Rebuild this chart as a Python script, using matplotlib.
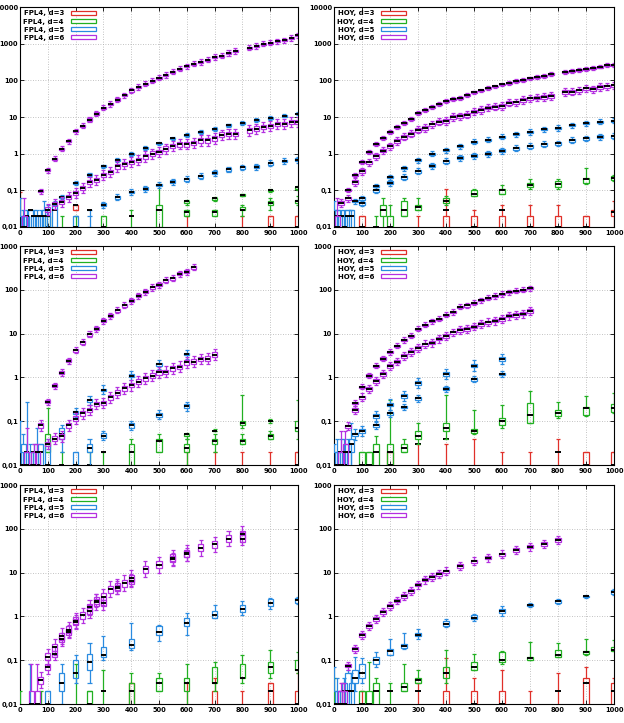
import numpy as np
import matplotlib
matplotlib.use('Agg')
import matplotlib.pyplot as plt
from matplotlib.patches import Patch, Rectangle
from matplotlib.collections import LineCollection

RED = '#e0302a'
GREEN = '#22b022'
BLUE = '#2a8be0'
PURPLE = '#b430e0'
COLORS = [RED, GREEN, BLUE, PURPLE]
DEGREES = [3, 4, 5, 6]

ZERO = 1e-3   # stands for 0 on the log axis (drawn below the frame)
BOXW = 18
FONT = ['Liberation Sans Narrow', 'DejaVu Sans']

# ---------------------------------------------------------------- top left, FPL4
tl_p6a_x = [75, 100, 125, 150, 175, 200, 225, 250, 275, 300, 325, 350, 375, 400, 425, 450, 475, 500,
            525, 550, 575, 600, 625, 650, 675, 700, 725, 750, 775, 825, 850, 875, 900, 925, 950, 975, 1000]
tl_p6a = [0.095, 0.35, 0.73, 1.37, 2.2, 4.1, 5.8, 8.5, 12.4, 18, 22.6, 30, 39, 53, 66, 81, 98, 118,
          140, 172, 208, 240, 285, 316, 366, 433, 470, 556, 630, 777, 863, 1000, 1050, 1170, 1250, 1430, 1690]
tl_p6b_x = [100, 125, 150, 175, 200, 225, 250, 275, 300, 325, 350, 375, 400, 425, 450, 475, 500,
            525, 550, 575, 600, 625, 650, 675, 700, 725, 750, 775, 825, 850, 875, 900, 925, 950, 975, 1000]
tl_p6b = [0.03, 0.043, 0.048, 0.066, 0.085, 0.116, 0.17, 0.19, 0.26, 0.32, 0.45, 0.53, 0.59, 0.66, 0.84,
          1.0, 1.1, 1.37, 1.6, 1.8, 1.8, 1.95, 2.3, 2.3, 2.6, 3.3, 3.5, 3.4, 4.3, 4.8, 5.3, 5.6, 6.5, 6.5, 7.2, 7.3]
tl_b5a_x = [150, 200, 250, 300, 350, 400, 450, 500, 550, 600, 650, 700, 750, 800, 850, 900, 950, 1000]
tl_b5a = [0.065, 0.16, 0.27, 0.45, 0.68, 0.96, 1.4, 1.9, 2.6, 3.2, 3.9, 4.8, 5.9, 7.0, 8.2, 9.3, 10.9, 12.4]
tl_b5b_x = [300, 350, 400, 450, 500, 550, 600, 650, 700, 750, 800, 850, 900, 950, 1000]
tl_b5b = [0.04, 0.065, 0.09, 0.11, 0.14, 0.17, 0.2, 0.24, 0.3, 0.37, 0.42, 0.44, 0.55, 0.63, 0.68]
# rows: x, whisker low, q1, median, q3, whisker high
tl_red = [(0, 0, 0, 0, 0.005, 0.09), (200, 0.03, 0.03, 0.04, 0.04, 0.04), (600, 0, 0, 0, 0.005, 0.02),
          (800, 0, 0, 0, 0.005, 0.02), (900, 0, 0, 0.01, 0.02, 0.02), (1000, 0, 0, 0.01, 0.02, 0.02)]
tl_green = [(100, 0, 0, 0.01, 0.02, 0.02), (150, 0, 0, 0, 0.005, 0.02), (200, 0, 0, 0.01, 0.005, 0.02),
            (300, 0, 0, 0.01, 0.02, 0.02), (400, 0, 0, 0.02, 0.005, 0.03), (500, 0, 0.01, 0.03, 0.04, 0.15),
            (600, 0.02, 0.02, 0.025, 0.03, 0.03), (700, 0.02, 0.02, 0.025, 0.03, 0.03),
            (800, 0.02, 0.03, 0.03, 0.035, 0.04), (900, 0.03, 0.04, 0.045, 0.05, 0.06),
            (1000, 0.04, 0.045, 0.05, 0.055, 0.07)]
tl_green2 = [(600, 0.04, 0.045, 0.05, 0.05, 0.055), (700, 0.05, 0.055, 0.06, 0.06, 0.065),
             (800, 0.07, 0.072, 0.075, 0.078, 0.08), (900, 0.09, 0.095, 0.1, 0.1, 0.11),
             (1000, 0.1, 0.11, 0.12, 0.12, 0.13)]
tl_blue = [(0, 0, 0, 0.01, 0.02, 0.06), (12, 0, 0, 0.01, 0.02, 0.03), (25, 0, 0, 0.02, 0.02, 0.03),
           (37, 0, 0, 0.03, 0.03, 0.03), (50, 0, 0, 0.02, 0.02, 0.03), (62, 0, 0, 0.02, 0.02, 0.03),
           (75, 0, 0, 0.02, 0.02, 0.03), (87, 0, 0.01, 0.02, 0.03, 0.05), (100, 0, 0.01, 0.02, 0.03, 0.04),
           (125, 0, 0.01, 0.03, 0.04, 0.05), (200, 0, 0, 0.01, 0.02, 0.02), (250, 0.01, 0.02, 0.03, 0.02, 0.03)]
tl_purple = [(15, 0, 0, 0.01, 0.02, 0.06)]

# ---------------------------------------------------------------- top right, HOY
tr_p6a_x = [50, 75, 100, 125, 150, 175, 200, 225, 250, 275, 300, 325, 350, 375, 400, 425, 450, 475, 500,
            525, 550, 575, 600, 625, 650, 675, 700, 725, 750, 775, 825, 850, 875, 900, 925, 950, 975, 1000]
tr_p6a = [0.1, 0.26, 0.6, 1.1, 1.8, 2.7, 3.9, 5.3, 6.9, 8.9, 12.6, 15.4, 19, 22.5, 27.6, 31, 33, 39, 47,
          53, 61, 68, 77, 85, 94, 104, 113, 124, 132, 150, 167, 177, 193, 205, 219, 236, 261, 265]
tr_p6b_x = [25, 50, 75, 100, 125, 150, 175, 200, 225, 250, 275, 300, 325, 350, 375, 400, 425, 450, 475, 500,
            525, 550, 575, 600, 625, 650, 675, 700, 725, 750, 775, 825, 850, 875, 900, 925, 950, 975, 1000]
tr_p6b = [0.045, 0.06, 0.17, 0.33, 0.58, 0.85, 1.22, 1.6, 2.2, 2.9, 3.5, 4.5, 5, 6.3, 7.4, 7.8, 10, 10.5, 11.5, 14,
          15.5, 18, 19, 20, 24.5, 25, 29, 32, 34, 35, 37, 48, 49, 53, 60, 57, 66, 68, 73]
tr_b5a_x = [75, 100, 150, 200, 250, 300, 350, 400, 450, 500, 550, 600, 650, 700, 750, 800, 850, 900, 950, 1000]
tr_b5a = [0.05, 0.06, 0.13, 0.23, 0.4, 0.66, 1.0, 1.25, 1.6, 2.1, 2.4, 2.9, 3.4, 3.9, 4.6, 5.0, 6.0, 6.8, 7.4, 7.9]
tr_b5b_x = [100, 150, 200, 250, 300, 350, 400, 450, 500, 550, 600, 650, 700, 750, 800, 850, 900, 950, 1000]
tr_b5b = [0.045, 0.1, 0.16, 0.23, 0.33, 0.47, 0.62, 0.77, 0.88, 1.0, 1.2, 1.4, 1.6, 1.8, 1.9, 2.3, 2.6, 2.9, 3.0]
tr_red = [(100, 0, 0, 0.01, 0.02, 0.02), (300, 0, 0, 0, 0.005, 0.02), (400, 0, 0, 0.03, 0.02, 0.11),
          (500, 0, 0, 0.01, 0.02, 0.03), (600, 0, 0, 0.03, 0.02, 0.04), (700, 0, 0, 0.01, 0.02, 0.04),
          (800, 0, 0, 0.01, 0.02, 0.04), (900, 0, 0, 0.01, 0.02, 0.02), (1000, 0, 0.02, 0.025, 0.03, 0.05)]
tr_green = [(150, 0, 0, 0.01, 0.005, 0.02), (175, 0, 0.02, 0.03, 0.04, 0.06), (200, 0, 0, 0.01, 0.02, 0.04),
            (250, 0.02, 0.02, 0.03, 0.05, 0.06), (300, 0.03, 0.03, 0.035, 0.04, 0.06),
            (400, 0.04, 0.045, 0.05, 0.06, 0.07), (500, 0.07, 0.07, 0.08, 0.1, 0.11),
            (600, 0.08, 0.08, 0.1, 0.11, 0.14), (700, 0.11, 0.12, 0.14, 0.16, 0.2),
            (800, 0.11, 0.12, 0.15, 0.18, 0.2), (900, 0.15, 0.16, 0.2, 0.22, 0.4),
            (1000, 0.18, 0.19, 0.22, 0.25, 0.26)]
tr_blue = [(0, 0, 0, 0.01, 0.03, 0.05), (12, 0, 0, 0.02, 0.03, 0.03), (25, 0, 0, 0.02, 0.02, 0.03),
           (37, 0, 0, 0.01, 0.02, 0.03), (50, 0, 0, 0.02, 0.03, 0.03), (62, 0, 0, 0.02, 0.03, 0.03)]
tr_purple = [(12, 0, 0, 0.01, 0.02, 0.06)]

# ---------------------------------------------------------------- middle left, FPL4
ml_p6a_x = [100, 125, 150, 175, 200, 225, 250, 275, 300, 325, 350, 375, 400, 425, 450, 475, 500,
            525, 550, 575, 600, 625]
ml_p6a = [0.28, 0.64, 1.29, 2.4, 4.2, 6.3, 9.7, 13, 19.6, 25.5, 34, 44, 56, 73, 90, 113, 130,
          165, 185, 230, 260, 330]
ml_p6b_x = [75, 100, 125, 150, 175, 200, 225, 250, 275, 300, 325, 350, 375, 400, 425, 450, 475, 500,
            525, 550, 575, 600, 625, 650, 675, 700]
ml_p6b = [0.08, 0.03, 0.04, 0.045, 0.08, 0.115, 0.15, 0.18, 0.25, 0.26, 0.35, 0.45, 0.56, 0.66, 0.8, 0.95,
          1.1, 1.3, 1.35, 1.6, 1.75, 2.2, 2.3, 2.6, 2.7, 3.3]
ml_b5a_x = [200, 250, 300, 400, 500, 600]
ml_b5a = [0.16, 0.3, 0.52, 1.1, 2.0, 3.4]
ml_b5b_x = [300, 400, 500, 600]
ml_b5b = [0.047, 0.08, 0.14, 0.22]
ml_red = [(600, 0, 0, 0, 0.005, 0.02), (700, 0, 0, 0, 0.005, 0.02), (800, 0, 0, 0, 0.005, 0.02),
          (900, 0, 0, 0, 0.005, 0.02), (1000, 0, 0, 0.01, 0.02, 0.02)]
ml_green = [(100, 0.02, 0.02, 0.03, 0.05, 0.2), (150, 0, 0, 0.01, 0.005, 0.02), (250, 0, 0, 0.01, 0.005, 0.02),
            (300, 0, 0, 0.02, 0.005, 0.02), (400, 0, 0.01, 0.02, 0.03, 0.04), (500, 0.02, 0.02, 0.035, 0.04, 0.05),
            (600, 0.01, 0.02, 0.025, 0.03, 0.04), (700, 0.02, 0.03, 0.035, 0.04, 0.05),
            (800, 0.03, 0.03, 0.035, 0.04, 0.05), (900, 0.04, 0.04, 0.045, 0.05, 0.06),
            (1000, 0.04, 0.06, 0.07, 0.1, 0.3)]
ml_green2 = [(600, 0.04, 0.045, 0.05, 0.05, 0.055), (700, 0.06, 0.06, 0.06, 0.06, 0.065),
             (800, 0.07, 0.08, 0.09, 0.1, 0.4), (900, 0.09, 0.1, 0.1, 0.1, 0.11)]
ml_blue = [(0, 0, 0, 0.01, 0.02, 0.1), (12, 0, 0, 0.01, 0.03, 0.05), (25, 0, 0, 0.02, 0.02, 0.28),
           (37, 0, 0, 0.01, 0.02, 0.03), (50, 0, 0, 0.02, 0.02, 0.03), (62, 0, 0, 0.01, 0.02, 0.07),
           (75, 0, 0, 0.02, 0.03, 0.03), (100, 0, 0, 0.01, 0.03, 0.04), (150, 0.02, 0.04, 0.05, 0.07, 0.08),
           (200, 0, 0, 0.01, 0.02, 0.02), (250, 0.01, 0.02, 0.025, 0.03, 0.04)]
ml_purple = [(25, 0, 0, 0.01, 0.02, 0.07), (50, 0, 0, 0.01, 0.02, 0.03), (62, 0, 0, 0.02, 0.02, 0.03)]

# ---------------------------------------------------------------- middle right, HOY
mr_p6a_x = [75, 100, 125, 150, 175, 200, 225, 250, 275, 300, 325, 350, 375, 400, 425, 450, 475, 500,
            525, 550, 575, 600, 625, 650, 675, 700]
mr_p6a = [0.26, 0.61, 1.1, 1.85, 2.7, 3.8, 5.3, 7.1, 8.9, 13, 16, 19, 22, 27, 31, 41, 44, 51,
          58, 66, 72, 80, 88, 95, 100, 108]
mr_p6b_x = [50, 75, 100, 125, 150, 175, 200, 225, 250, 275, 300, 325, 350, 375, 400, 425, 450, 475, 500,
            525, 550, 575, 600, 625, 650, 675, 700]
mr_p6b = [0.076, 0.18, 0.35, 0.54, 0.83, 1.2, 1.8, 2.3, 3.1, 3.8, 4.7, 5.7, 6.2, 7.7, 8.9, 10.6, 12.2, 12.7,
          14.5, 16.5, 18, 19.7, 21.5, 25.6, 26.6, 28.6, 33]
mr_b5a_x = [75, 100, 150, 200, 250, 300, 400, 500, 600]
mr_b5a = [0.05, 0.06, 0.13, 0.24, 0.38, 0.75, 1.2, 1.85, 2.6]
mr_b5b_x = [150, 200, 250, 300, 400, 500, 600]
mr_b5b = [0.08, 0.15, 0.21, 0.33, 0.55, 0.9, 1.2]
mr_red = [(200, 0, 0, 0.01, 0.02, 0.02), (300, 0, 0, 0.03, 0.005, 0.03), (400, 0, 0, 0.04, 0.005, 0.03),
          (500, 0, 0, 0, 0.005, 0.04), (600, 0, 0, 0, 0.005, 0.02), (700, 0, 0, 0, 0.005, 0.02),
          (800, 0, 0, 0.02, 0.005, 0.04), (900, 0, 0, 0.01, 0.02, 0.02), (1000, 0, 0, 0.01, 0.02, 0.02)]
mr_green = [(100, 0, 0, 0.01, 0.02, 0.02), (125, 0, 0, 0.01, 0.02, 0.02), (150, 0, 0, 0.02, 0.03, 0.045),
            (200, 0, 0, 0.02, 0.03, 0.3), (250, 0.02, 0.02, 0.025, 0.03, 0.04), (300, 0.03, 0.04, 0.045, 0.06, 0.09),
            (400, 0.04, 0.06, 0.07, 0.09, 0.4), (500, 0.05, 0.055, 0.06, 0.065, 0.18),
            (600, 0.07, 0.08, 0.1, 0.12, 0.23), (700, 0.09, 0.09, 0.14, 0.26, 0.5),
            (800, 0.12, 0.13, 0.15, 0.18, 0.27), (900, 0.13, 0.14, 0.2, 0.21, 0.38),
            (1000, 0.15, 0.16, 0.2, 0.25, 0.45)]
mr_blue = [(0, 0, 0, 0.01, 0.02, 0.03), (12, 0, 0, 0.01, 0.02, 0.04), (25, 0, 0, 0.02, 0.02, 0.04),
           (37, 0, 0, 0.01, 0.02, 0.04), (50, 0, 0, 0.02, 0.03, 0.04), (62, 0, 0.02, 0.03, 0.04, 0.09)]
mr_purple = [(25, 0, 0, 0.01, 0.02, 0.06), (40, 0, 0, 0.02, 0.03, 0.06)]

# ---------------------------------------------------------------- bottom left, FPL4
bl_p6a_x = [75, 100, 125, 150, 175, 200, 225, 250, 275, 300, 325, 350, 375, 400,
            450, 500, 550, 600, 650, 700, 750, 800]
bl_p6a = [0.035, 0.12, 0.2, 0.35, 0.5, 0.8, 1.05, 1.6, 2.1, 2.8, 4.2, 4.8, 5.7, 7.5,
          12, 15, 22, 28, 37, 44, 60, 75]
bl_p6b_x = [100, 125, 150, 175, 200, 250, 275, 300, 350, 400, 550, 600, 800]
bl_p6b = [0.07, 0.14, 0.3, 0.45, 0.75, 1.3, 2.3, 2.0, 4.5, 6.5, 20, 26, 60]
bl_red = [(400, 0, 0, 0.02, 0.03, 0.03), (500, 0, 0, 0, 0.005, 0.01), (600, 0, 0, 0, 0.005, 0.03),
          (700, 0, 0, 0.03, 0.02, 0.04), (800, 0, 0, 0, 0.005, 0.02), (900, 0, 0, 0.02, 0.03, 0.03),
          (1000, 0, 0, 0.01, 0.02, 0.05)]
bl_green = [(0, 0, 0, 0, 0.005, 0.02), (75, 0, 0, 0, 0.005, 0.02), (200, 0, 0, 0, 0.005, 0.08),
            (250, 0, 0, 0.01, 0.02, 0.02), (300, 0, 0, 0.02, 0.005, 0.06), (400, 0, 0, 0.02, 0.03, 0.05),
            (500, 0.02, 0.02, 0.03, 0.04, 0.05), (600, 0, 0.02, 0.03, 0.04, 0.08),
            (700, 0.02, 0.03, 0.03, 0.07, 0.09), (800, 0.03, 0.04, 0.04, 0.08, 0.13),
            (900, 0.04, 0.05, 0.07, 0.09, 0.17), (1000, 0.05, 0.06, 0.06, 0.1, 0.15)]
bl_blue = [(37, 0, 0, 0, 0.005, 0.08), (100, 0, 0, 0.01, 0.02, 0.02), (150, 0.01, 0.02, 0.03, 0.05, 0.08),
           (200, 0.03, 0.04, 0.05, 0.1, 0.13), (250, 0.03, 0.06, 0.09, 0.14, 0.25),
           (300, 0.1, 0.12, 0.13, 0.2, 0.35), (400, 0.17, 0.19, 0.22, 0.3, 0.7),
           (500, 0.27, 0.38, 0.43, 0.6, 0.65), (600, 0.37, 0.6, 0.7, 0.9, 1.2),
           (700, 0.9, 0.92, 1.1, 1.3, 1.8), (800, 1.1, 1.25, 1.45, 1.8, 2.2),
           (900, 1.5, 1.7, 2.0, 2.5, 2.6), (1000, 1.9, 2.0, 2.4, 2.7, 2.8)]
bl_purple = [(40, 0, 0, 0.01, 0.02, 0.08), (62, 0, 0, 0.01, 0.02, 0.08)]

# ---------------------------------------------------------------- bottom right, HOY
br_p6_x = [50, 75, 100, 125, 150, 175, 200, 225, 250, 275, 300, 325, 350, 375, 400,
           450, 500, 550, 600, 650, 700, 750, 800]
br_p6 = [0.075, 0.18, 0.38, 0.6, 0.88, 1.25, 1.75, 2.3, 2.9, 3.8, 5.3, 6.9, 8.0, 9.3, 10.7,
         14, 18, 22, 26, 33, 39, 45, 55]
br_red = [(30, 0, 0, 0, 0.005, 0.03), (100, 0, 0, 0, 0.005, 0.02), (300, 0, 0, 0.02, 0.005, 0.03),
          (400, 0, 0, 0.05, 0.02, 0.11), (500, 0, 0, 0.01, 0.02, 0.04), (600, 0, 0, 0.01, 0.02, 0.06),
          (700, 0, 0, 0, 0.005, 0.02), (800, 0, 0, 0.02, 0.005, 0.05), (900, 0, 0, 0.03, 0.04, 0.07),
          (1000, 0, 0, 0.02, 0.03, 0.04)]
br_green = [(0, 0, 0, 0, 0.005, 0.04), (100, 0, 0, 0.01, 0.02, 0.02), (125, 0, 0, 0.01, 0.02, 0.09),
            (150, 0, 0, 0.02, 0.03, 0.04), (200, 0, 0, 0.02, 0.005, 0.03), (250, 0.02, 0.02, 0.025, 0.03, 0.08),
            (300, 0.03, 0.03, 0.035, 0.04, 0.06), (400, 0.03, 0.04, 0.05, 0.07, 0.17),
            (500, 0.06, 0.06, 0.07, 0.09, 0.14), (600, 0.08, 0.09, 0.1, 0.15, 0.16),
            (700, 0.1, 0.1, 0.11, 0.12, 0.26), (800, 0.12, 0.12, 0.13, 0.17, 0.25),
            (900, 0.13, 0.14, 0.15, 0.16, 0.3), (1000, 0.16, 0.16, 0.17, 0.2, 0.29)]
br_blue = [(0, 0, 0, 0.01, 0.02, 0.07), (12, 0, 0, 0.01, 0.02, 0.04), (25, 0, 0, 0.01, 0.02, 0.02),
           (37, 0, 0, 0.02, 0.03, 0.04), (50, 0, 0, 0.02, 0.05, 0.06), (62, 0, 0, 0.02, 0.03, 0.05),
           (75, 0.02, 0.03, 0.04, 0.06, 0.12), (100, 0.03, 0.04, 0.05, 0.08, 0.11),
           (150, 0.07, 0.08, 0.1, 0.12, 0.15), (200, 0.13, 0.13, 0.16, 0.18, 0.3),
           (250, 0.18, 0.19, 0.21, 0.23, 0.42), (300, 0.3, 0.35, 0.38, 0.42, 0.52),
           (400, 0.58, 0.6, 0.68, 0.78, 0.85), (500, 0.8, 0.85, 0.93, 1.05, 1.15),
           (600, 1.0, 1.2, 1.3, 1.5, 1.7), (700, 1.6, 1.7, 1.8, 1.95, 2.0),
           (800, 1.9, 2.05, 2.2, 2.4, 2.5), (900, 2.7, 2.8, 2.9, 3.0, 3.1),
           (1000, 3.1, 3.3, 3.6, 4.0, 4.2)]
br_purple = [(25, 0, 0, 0.01, 0.02, 0.03), (37, 0, 0, 0.01, 0.02, 0.03)]


def z(v):
    return v if v > 0 else ZERO


def candles(ax, rows, color, zo):
    w = BOXW
    segs, meds = [], []
    for x, lo, q1, med, q3, hi in rows:
        lo, q1, med, q3, hi = z(lo), z(q1), z(med), z(q3), z(hi)
        ax.add_patch(Rectangle((x - w / 2, q1), w, q3 - q1, fill=False, ec=color, lw=0.9, zorder=zo))
        segs += [[(x, lo), (x, q1)], [(x, q3), (x, hi)],
                 [(x - 0.4 * w, lo), (x + 0.4 * w, lo)], [(x - 0.4 * w, hi), (x + 0.4 * w, hi)]]
        meds.append([(x - w / 2, med), (x + w / 2, med)])
    ax.add_collection(LineCollection(segs, colors=color, lw=0.9, zorder=zo))
    ax.add_collection(LineCollection(meds, colors='black', lw=1.4, zorder=zo + 0.5))


def curve(ax, xs, med, box, wk, color, zo):
    # box / wk: half height of box and whisker reach, in decades
    rows = []
    for x, m in zip(xs, med):
        rows.append((x, m / 10 ** wk, m / 10 ** box, m, m * 10 ** box, m * 10 ** wk))
    candles(ax, rows, color, zo)


def setup(ax, top, name):
    ax.set_yscale('log')
    ax.set_xlim(0, 1000)
    ax.set_ylim(0.01, top)
    ax.set_xticks(range(0, 1001, 100))
    ax.set_xticklabels([str(v) for v in range(0, 1001, 100)])
    decs = [0.01, 0.1, 1, 10, 100, 1000, 10000]
    labs = ['0,01', '0,1', '1', '10', '100', '1000', '10000']
    n = decs.index(top) + 1
    ax.set_yticks(decs[:n])
    ax.set_yticklabels(labs[:n])
    ax.yaxis.set_minor_locator(matplotlib.ticker.NullLocator())
    ax.tick_params(direction='in', length=3, width=0.6, top=True, right=True, pad=2.5)
    ax.tick_params(axis='y', pad=1.5)
    for lab in ax.get_xticklabels() + ax.get_yticklabels():
        lab.set_family(FONT)
        lab.set_fontsize(4.8)
        lab.set_fontweight('bold')
    ax.grid(True, which='major', color='#b0b0b0', ls=(0, (1, 2)), lw=0.6)
    ax.set_axisbelow(True)
    for s in ax.spines.values():
        s.set_linewidth(0.8)
    handles = [Patch(facecolor='white', edgecolor=c, lw=0.9) for c in COLORS]
    labels = ['%s, d=%d' % (name, d) for d in DEGREES]
    leg = ax.legend(handles, labels, loc='upper left', frameon=False, markerfirst=False,
                    prop={'family': FONT, 'size': 5, 'weight': 'bold'}, handlelength=3.6, handleheight=0.6,
                    labelspacing=0.3, handletextpad=1.0, borderaxespad=0.3, borderpad=0.2)
    leg.set_zorder(20)


fig = plt.figure(figsize=(6.24, 7.23), dpi=100)
W_L, W_R = 278 / 624, 280 / 624
X_L, X_R = 20 / 624, 334 / 624
rows_pos = [(1 - 227 / 723, 220 / 723), (1 - 465 / 723, 219 / 723), (1 - 704 / 723, 219 / 723)]

ax_tl = fig.add_axes([X_L, rows_pos[0][0], W_L, rows_pos[0][1]])
ax_tr = fig.add_axes([X_R, rows_pos[0][0], W_R, rows_pos[0][1]])
ax_ml = fig.add_axes([X_L, rows_pos[1][0], W_L, rows_pos[1][1]])
ax_mr = fig.add_axes([X_R, rows_pos[1][0], W_R, rows_pos[1][1]])
ax_bl = fig.add_axes([X_L, rows_pos[2][0], W_L, rows_pos[2][1]])
ax_br = fig.add_axes([X_R, rows_pos[2][0], W_R, rows_pos[2][1]])

# top left
setup(ax_tl, 10000, 'FPL4')
candles(ax_tl, tl_red, RED, 2)
candles(ax_tl, tl_green, GREEN, 3)
candles(ax_tl, tl_green2, GREEN, 3)
candles(ax_tl, tl_blue, BLUE, 4)
curve(ax_tl, tl_b5a_x, tl_b5a, 0.025, 0.05, BLUE, 4)
curve(ax_tl, tl_b5b_x, tl_b5b, 0.04, 0.08, BLUE, 4)
candles(ax_tl, tl_purple, PURPLE, 5)
curve(ax_tl, tl_p6a_x, tl_p6a, 0.03, 0.07, PURPLE, 5)
curve(ax_tl, tl_p6b_x, tl_p6b, 0.06, 0.14, PURPLE, 5)

# top right
setup(ax_tr, 10000, 'HOY')
candles(ax_tr, tr_red, RED, 2)
candles(ax_tr, tr_green, GREEN, 3)
candles(ax_tr, tr_blue, BLUE, 4)
curve(ax_tr, tr_b5a_x, tr_b5a, 0.03, 0.07, BLUE, 4)
curve(ax_tr, tr_b5b_x, tr_b5b, 0.04, 0.08, BLUE, 4)
candles(ax_tr, tr_purple, PURPLE, 5)
curve(ax_tr, tr_p6a_x, tr_p6a, 0.025, 0.05, PURPLE, 5)
curve(ax_tr, tr_p6b_x, tr_p6b, 0.05, 0.1, PURPLE, 5)

# middle left
setup(ax_ml, 1000, 'FPL4')
candles(ax_ml, ml_red, RED, 2)
candles(ax_ml, ml_green, GREEN, 3)
candles(ax_ml, ml_green2, GREEN, 3)
candles(ax_ml, ml_blue, BLUE, 4)
curve(ax_ml, ml_b5a_x, ml_b5a, 0.03, 0.1, BLUE, 4)
curve(ax_ml, ml_b5b_x, ml_b5b, 0.05, 0.1, BLUE, 4)
candles(ax_ml, ml_purple, PURPLE, 5)
curve(ax_ml, ml_p6a_x, ml_p6a, 0.035, 0.07, PURPLE, 5)
curve(ax_ml, ml_p6b_x, ml_p6b, 0.05, 0.12, PURPLE, 5)

# middle right
setup(ax_mr, 1000, 'HOY')
candles(ax_mr, mr_red, RED, 2)
candles(ax_mr, mr_green, GREEN, 3)
candles(ax_mr, mr_blue, BLUE, 4)
curve(ax_mr, mr_b5a_x, mr_b5a, 0.04, 0.12, BLUE, 4)
curve(ax_mr, mr_b5b_x, mr_b5b, 0.03, 0.07, BLUE, 4)
candles(ax_mr, mr_purple, PURPLE, 5)
curve(ax_mr, mr_p6a_x, mr_p6a, 0.025, 0.06, PURPLE, 5)
curve(ax_mr, mr_p6b_x, mr_p6b, 0.04, 0.09, PURPLE, 5)

# bottom left
setup(ax_bl, 1000, 'FPL4')
candles(ax_bl, bl_red, RED, 2)
candles(ax_bl, bl_green, GREEN, 3)
candles(ax_bl, bl_blue, BLUE, 4)
candles(ax_bl, bl_purple, PURPLE, 5)
curve(ax_bl, bl_p6a_x, bl_p6a, 0.08, 0.18, PURPLE, 5)
curve(ax_bl, bl_p6b_x, bl_p6b, 0.07, 0.15, PURPLE, 5)

# bottom right
setup(ax_br, 1000, 'HOY')
candles(ax_br, br_red, RED, 2)
candles(ax_br, br_green, GREEN, 3)
candles(ax_br, br_blue, BLUE, 4)
candles(ax_br, br_purple, PURPLE, 5)
curve(ax_br, br_p6_x, br_p6, 0.04, 0.09, PURPLE, 5)

fig.savefig('out.png', dpi=100)
